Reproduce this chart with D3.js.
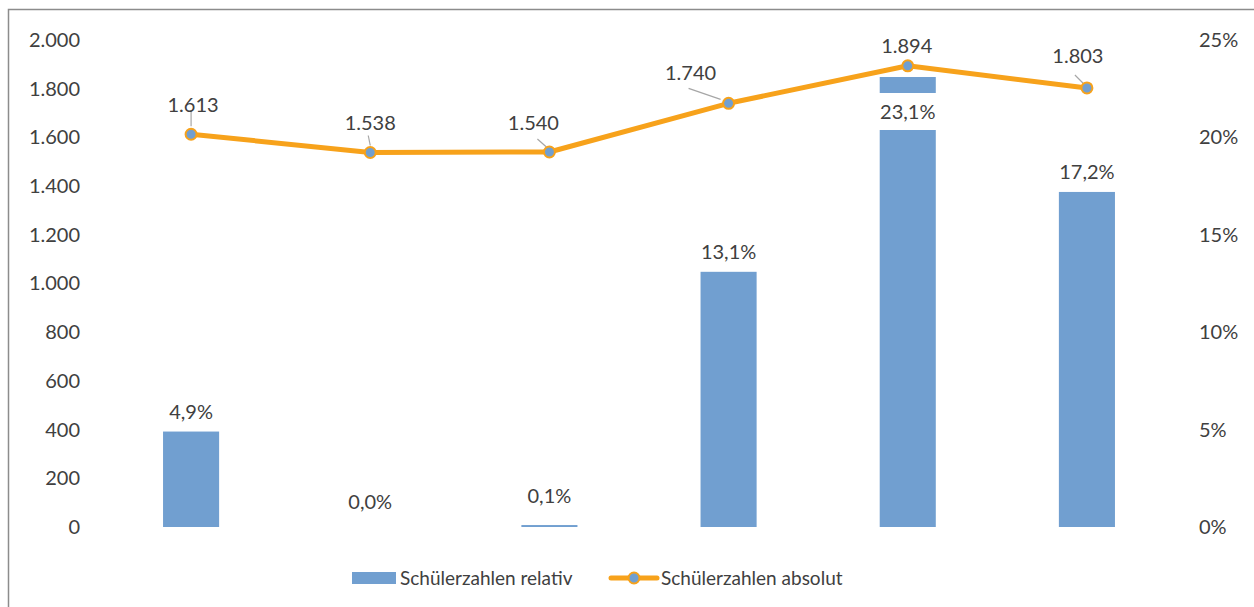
<!DOCTYPE html>
<html>
<head>
<meta charset="utf-8">
<script src="https://cdn.jsdelivr.net/npm/d3@7"></script>
<style>
  html, body { margin: 0; padding: 0; background: #fff; }
  svg { display: block; }
  text { font-family: "Lato", "Open Sans", sans-serif; }
</style>
</head>
<body>
<svg id="chart" width="1254" height="607"></svg>
<script>
// Categories (unlabelled on the x axis)
const categories = ["A", "B", "C", "D", "E", "F"];
// Relative change in pupil numbers (percent)
const relativ = [4.9, 0.0, 0.1, 13.1, 23.1, 17.2];
// Absolute pupil numbers
const absolut = [1613, 1538, 1540, 1740, 1894, 1803];
// Axis ticks
const leftTicks = [0, 200, 400, 600, 800, 1000, 1200, 1400, 1600, 1800, 2000];
const rightTicks = [0, 5, 10, 15, 20, 25];
const seriesNames = ["Schülerzahlen relativ", "Schülerzahlen absolut"];

const barColor = "#719fd0";
const lineColor = "#f7a21b";
const textColor = "#404040";
const fs = "20px";

const svg = d3.select("#chart");
const W = 1254, H = 607;

// frame
svg.append("rect").attr("x", 8.5).attr("y", 9.5).attr("width", W).attr("height", H)
  .attr("fill", "none").attr("stroke", "#8c8c8c").attr("stroke-width", 1.5);

const plot = { left: 101.5, right: 1176.5, top: 40, bottom: 527 };

const x = d3.scaleBand().domain(categories).range([plot.left, plot.right]).paddingInner(0.687).paddingOuter(0.3435);
const yL = d3.scaleLinear().domain([0, 2000]).range([plot.bottom, plot.top]);
const yR = d3.scaleLinear().domain([0, 25]).range([plot.bottom, plot.top]);

const deFmt = d3.formatLocale({ decimal: ",", thousands: ".", grouping: [3], currency: ["", "€"] });
const fmtInt = deFmt.format(",d");
const fmtPct = v => deFmt.format(".1f")(v) + "%";

// left axis
const axL = d3.axisLeft(yL).tickValues(leftTicks).tickFormat(fmtInt).tickSize(0).tickPadding(0);
const gL = svg.append("g").attr("transform", `translate(80,0)`).call(axL);
gL.select(".domain").remove();
gL.selectAll("text").attr("fill", textColor).style("font-size", fs).style("font-family", "Lato, 'Open Sans', sans-serif");

// right axis
const axR = d3.axisRight(yR).tickValues(rightTicks).tickFormat(d => d + "%").tickSize(0).tickPadding(0);
const gR = svg.append("g").attr("transform", `translate(1199,0)`).call(axR);
gR.select(".domain").remove();
gR.selectAll("text").attr("fill", textColor).style("font-size", fs).style("font-family", "Lato, 'Open Sans', sans-serif");

// bars
svg.append("g").selectAll("rect").data(relativ).join("rect")
  .attr("x", (d, i) => x(categories[i]))
  .attr("width", x.bandwidth())
  .attr("y", d => yR(d))
  .attr("height", d => yR(0) - yR(d))
  .attr("fill", barColor);

// bar labels
const barLabelOffset = [-13, -18, -22, -13, 0, -13];
const barLabels = svg.append("g");
relativ.forEach((v, i) => {
  const cx = x(categories[i]) + x.bandwidth() / 2;
  let yy;
  if (i === 4) {
    yy = 119;
    barLabels.append("rect").attr("x", cx - 32).attr("y", 93).attr("width", 64).attr("height", 37).attr("fill", "#fff");
  } else {
    yy = yR(v) + barLabelOffset[i];
  }
  barLabels.append("text").attr("x", cx).attr("y", yy).attr("text-anchor", "middle")
    .attr("fill", textColor).style("font-size", fs).text(fmtPct(v));
});

// line
const cxOf = i => x(categories[i]) + x.bandwidth() / 2;
const line = d3.line().x((d, i) => cxOf(i)).y(d => yL(d));
svg.append("path").datum(absolut).attr("d", line)
  .attr("fill", "none").attr("stroke", lineColor).attr("stroke-width", 5).attr("stroke-linejoin", "round");

// line labels with leader lines
const lblPos = [
  { dx: 2, y: 112, leader: [[0, -8], [0, -24]] },
  { dx: 0, y: 130, leader: [[0, -7], [-2, -17]] },
  { dx: -16, y: 130, leader: [[-3, -5], [-12, -13]] },
  { dx: -38, y: 80, leader: [[-8, -4], [-40, -15]] },
  { dx: -1, y: 53, leader: null },
  { dx: -9, y: 63, leader: [[-3, -4], [-12, -13]] }
];
const lineLabels = svg.append("g");
absolut.forEach((v, i) => {
  const px = cxOf(i), py = yL(v), p = lblPos[i];
  if (p.leader) {
    lineLabels.append("line")
      .attr("x1", px + p.leader[0][0]).attr("y1", py + p.leader[0][1])
      .attr("x2", px + p.leader[1][0]).attr("y2", py + p.leader[1][1])
      .attr("stroke", "#a6a6a6").attr("stroke-width", 1.2);
  }
  lineLabels.append("text").attr("x", px + p.dx).attr("y", p.y).attr("text-anchor", "middle")
    .attr("fill", textColor).style("font-size", fs).text(fmtInt(v));
});

// markers
svg.append("g").selectAll("circle").data(absolut).join("circle")
  .attr("cx", (d, i) => cxOf(i)).attr("cy", d => yL(d)).attr("r", 5.5)
  .attr("fill", barColor).attr("stroke", lineColor).attr("stroke-width", 2);

// legend
const lg = svg.append("g");
lg.append("rect").attr("x", 352).attr("y", 572).attr("width", 44).attr("height", 12).attr("fill", barColor);
lg.append("text").attr("x", 400).attr("y", 585).attr("fill", textColor).style("font-size", "19px").text(seriesNames[0]);
lg.append("line").attr("x1", 611).attr("x2", 657).attr("y1", 578).attr("y2", 578)
  .attr("stroke", lineColor).attr("stroke-width", 5).attr("stroke-linecap", "round");
lg.append("circle").attr("cx", 634).attr("cy", 578).attr("r", 5.5)
  .attr("fill", barColor).attr("stroke", lineColor).attr("stroke-width", 2);
lg.append("text").attr("x", 661).attr("y", 585).attr("fill", textColor).style("font-size", "19px").text(seriesNames[1]);
</script>
</body>
</html>
